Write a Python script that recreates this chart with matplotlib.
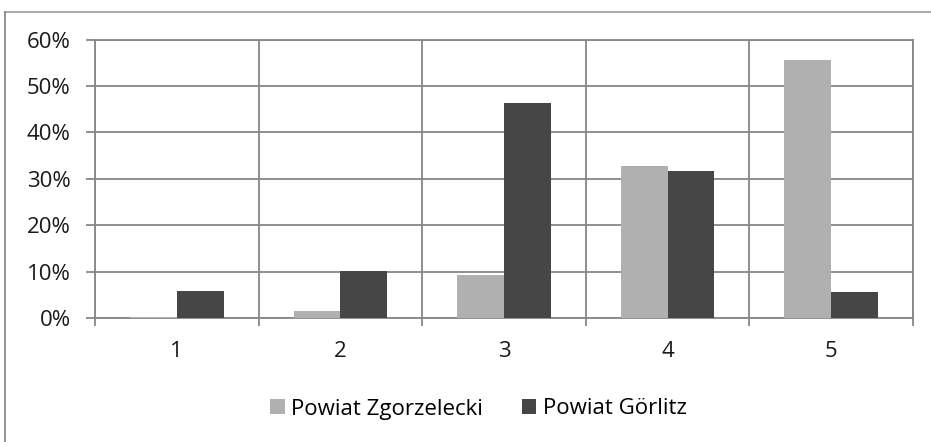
import matplotlib
matplotlib.use("Agg")
import matplotlib.pyplot as plt
from matplotlib.patches import Patch
from matplotlib.lines import Line2D
import numpy as np

categories = ["1", "2", "3", "4", "5"]
zgorzelecki = [0.3, 1.6, 9.3, 32.7, 55.6]
goerlitz = [5.8, 10.1, 46.4, 31.7, 5.5]
series_names = ["Powiat Zgorzelecki", "Powiat Görlitz"]
ytick_vals = [0, 10, 20, 30, 40, 50, 60]
ytick_labels = ["0%", "10%", "20%", "30%", "40%", "50%", "60%"]

light = "#b0b0b0"
dark = "#464646"
gridc = "#878787"
FS = 16

plt.rcParams['font.family'] = ['Open Sans', 'DejaVu Sans']

W, H = 931, 442
fig = plt.figure(figsize=(W / 100, H / 100), dpi=100)

# outer chart frame
fig.add_artist(Line2D([5 / W, 1.0], [1 - 11.5 / H, 1 - 11.5 / H], transform=fig.transFigure,
                      color="#a0a0a0", lw=1.3))
fig.add_artist(Line2D([5 / W, 5 / W], [0, 1 - 11.5 / H], transform=fig.transFigure,
                      color="#8a8a8a", lw=1.3))

ax = fig.add_axes([95 / W, 1 - 318 / H, (913 - 95) / W, (318 - 39.5) / H])

x = np.arange(len(categories))
w = 1 / 3.5
ax.bar(x - w / 2, zgorzelecki, width=w, color=light, zorder=3, label=series_names[0])
ax.bar(x + w / 2, goerlitz, width=w, color=dark, zorder=3, label=series_names[1])

ax.set_xlim(-0.5, len(categories) - 0.5)
ax.set_ylim(0, 60)
ax.set_yticks(ytick_vals)
ax.set_yticklabels(ytick_labels, fontsize=FS, color="#1a1a1a")

ax.set_xticks(np.arange(len(categories) + 1) - 0.5)
ax.set_xticklabels([])
ax.set_xticks(x, minor=True)
ax.set_xticklabels(categories, minor=True, fontsize=FS, color="#1a1a1a")
ax.tick_params(axis='x', which='major', length=6, width=1.3, color=gridc, direction='out')
ax.tick_params(axis='x', which='minor', length=0, pad=16.5)
ax.tick_params(axis='y', length=6.5, width=1.3, color=gridc, pad=11)

ax.grid(True, which='major', color=gridc, lw=1.3, zorder=0)
ax.set_axisbelow(True)
for s in ax.spines.values():
    s.set_color(gridc)
    s.set_linewidth(1.3)

handles = [Patch(facecolor=light, edgecolor='none'), Patch(facecolor=dark, edgecolor='none')]
fig.legend(handles, series_names, loc='center', bbox_to_anchor=(478.5 / W, 1 - 409 / H),
           ncol=2, frameon=False, fontsize=FS, handlelength=0.65, handleheight=0.65,
           handletextpad=0.3, columnspacing=1.75)

fig.savefig("out.png", dpi=100, facecolor="white")
